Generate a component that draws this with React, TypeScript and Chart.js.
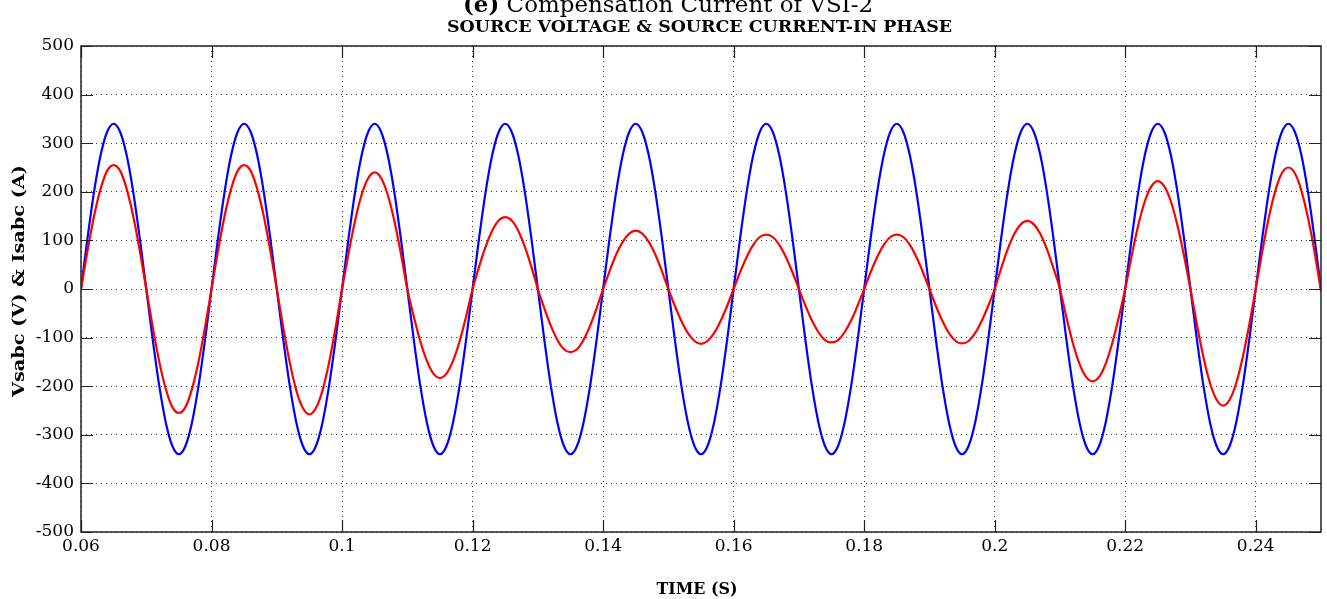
import React, { useEffect, useRef } from 'react';
import { Chart, registerables } from 'chart.js';

Chart.register(...registerables);

// Sampling grid of the recorded waveforms (seconds)
const T_START = 0.06;
const T_STEP = 0.001;

// Source voltage (V)
const vsabc = [
  0, 105, 200, 275, 323, 340, 323, 275, 200, 105, 0, -105, -200, -275, -323, -340, -323, -275, -200, -105,
  0, 105, 200, 275, 323, 340, 323, 275, 200, 105, 0, -105, -200, -275, -323, -340, -323, -275, -200, -105,
  0, 105, 200, 275, 323, 340, 323, 275, 200, 105, 0, -105, -200, -275, -323, -340, -323, -275, -200, -105,
  0, 105, 200, 275, 323, 340, 323, 275, 200, 105, 0, -105, -200, -275, -323, -340, -323, -275, -200, -105,
  0, 105, 200, 275, 323, 340, 323, 275, 200, 105, 0, -105, -200, -275, -323, -340, -323, -275, -200, -105,
  0, 105, 200, 275, 323, 340, 323, 275, 200, 105, 0, -105, -200, -275, -323, -340, -323, -275, -200, -105,
  0, 105, 200, 275, 323, 340, 323, 275, 200, 105, 0, -105, -200, -275, -323, -340, -323, -275, -200, -105,
  0, 105, 200, 275, 323, 340, 323, 275, 200, 105, 0, -105, -200, -275, -323, -340, -323, -275, -200, -105,
  0, 105, 200, 275, 323, 340, 323, 275, 200, 105, 0, -105, -200, -275, -323, -340, -323, -275, -200, -105,
  0, 105, 200, 275, 323, 340, 323, 275, 200, 105,
  0,
];

// Source current (A)
const isabc = [
  0, 79, 150, 206, 243, 255, 243, 206, 150, 79,
  0, -79, -150, -206, -243, -255, -243, -206, -150, -79,
  0, 79, 150, 206, 243, 255, 243, 206, 150, 79,
  0, -80, -152, -209, -245, -258, -245, -209, -152, -80,
  0, 74, 141, 194, 228, 240, 228, 194, 141, 74,
  0, -57, -108, -148, -174, -183, -174, -148, -108, -57,
  0, 46, 87, 120, 141, 148, 141, 120, 87, 46,
  0, -40, -76, -105, -124, -130, -124, -105, -76, -40,
  0, 37, 71, 97, 114, 120, 114, 97, 71, 37,
  0, -35, -66, -91, -107, -113, -107, -91, -66, -35,
  0, 35, 66, 91, 107, 112, 107, 91, 66, 35,
  0, -34, -65, -89, -105, -110, -105, -89, -65, -34,
  0, 35, 66, 91, 107, 112, 107, 91, 66, 35,
  0, -35, -66, -91, -107, -112, -107, -91, -66, -35,
  0, 43, 82, 113, 133, 140, 133, 113, 82, 43,
  0, -59, -112, -154, -181, -190, -181, -154, -112, -59,
  0, 69, 131, 180, 211, 222, 211, 180, 131, 69,
  0, -74, -141, -194, -228, -240, -228, -194, -141, -74,
  0, 77, 147, 202, 238, 250, 238, 202, 147, 77,
  -5,
];

const xTickValues = [0.06, 0.08, 0.1, 0.12, 0.14, 0.16, 0.18, 0.2, 0.22, 0.24];
const xTickLabels = ['0.06', '0.08', '0.1', '0.12', '0.14', '0.16', '0.18', '0.2', '0.22', '0.24'];
const yTickValues = [-500, -400, -300, -200, -100, 0, 100, 200, 300, 400, 500];
const yTickLabels = ['-500', '-400', '-300', '-200', '-100', '0', '100', '200', '300', '400', '500'];

const titleTag = '(e)';
const titleText = ' Compensation Current of VSI-2';
const subtitleText = 'SOURCE VOLTAGE & SOURCE CURRENT-IN PHASE';
const xAxisTitle = 'TIME (S)';
const yAxisTitle = 'Vsabc (V) & Isabc (A)';

const SERIF = '"DejaVu Serif", "Liberation Serif", serif';

function drawFitted(ctx: CanvasRenderingContext2D, text: string, font: string, cx: number, cy: number, width: number, rotation = 0, baseline: CanvasTextBaseline = 'alphabetic') {
  ctx.save();
  ctx.font = font;
  const w = ctx.measureText(text).width;
  ctx.translate(cx, cy);
  if (rotation) ctx.rotate(rotation);
  ctx.scale(width / w, 1);
  ctx.textAlign = 'center';
  ctx.textBaseline = baseline;
  ctx.fillStyle = '#000';
  ctx.fillText(text, 0, 0);
  ctx.restore();
}

const framePlugin = {
  id: 'frameTicks',
  afterDatasetsDraw(chart: any) {
    const { ctx, chartArea, scales } = chart;
    const { left, right, top, bottom } = chartArea;
    const x = scales.x;
    const y = scales.y;
    ctx.save();
    ctx.strokeStyle = '#222';
    ctx.lineWidth = 1.2;
    ctx.beginPath();
    for (const v of xTickValues) {
      const px = Math.round(x.getPixelForValue(v)) + 0.5;
      ctx.moveTo(px, bottom);
      ctx.lineTo(px, bottom - 12);
      ctx.moveTo(px, top);
      ctx.lineTo(px, top + 12);
    }
    for (const v of yTickValues) {
      const py = Math.round(y.getPixelForValue(v)) + 0.5;
      ctx.moveTo(left, py);
      ctx.lineTo(left + 12, py);
      ctx.moveTo(right, py);
      ctx.lineTo(right - 12, py);
    }
    ctx.stroke();
    ctx.lineWidth = 1.5;
    ctx.strokeRect(left, top, right - left, bottom - top);
    ctx.restore();
  },
};

const textPlugin = {
  id: 'texts',
  afterDraw(chart: any) {
    const ctx: CanvasRenderingContext2D = chart.ctx;
    // Title line (clipped at the top in the reference)
    ctx.save();
    ctx.fillStyle = '#000';
    ctx.textBaseline = 'alphabetic';
    ctx.textAlign = 'left';
    ctx.font = `bold 23px ${SERIF}`;
    const wTag = ctx.measureText(titleTag).width;
    ctx.font = `23px ${SERIF}`;
    const wText = ctx.measureText(titleText).width;
    const scale = 410 / (wTag + wText);
    ctx.translate(463, 12);
    ctx.scale(scale, 1);
    ctx.font = `bold 23px ${SERIF}`;
    ctx.fillText(titleTag, 0, 0);
    ctx.font = `23px ${SERIF}`;
    ctx.fillText(titleText, wTag, 0);
    ctx.restore();

    drawFitted(ctx, subtitleText, `bold 16px ${SERIF}`, 699.5, 32, 505);
    drawFitted(ctx, xAxisTitle, `bold 17px ${SERIF}`, 697, 594, 81);
    drawFitted(ctx, yAxisTitle, `bold 16px ${SERIF}`, 20, 281, 232, -Math.PI / 2, 'middle');
  },
};

export default function App() {
  const canvasRef = useRef<HTMLCanvasElement | null>(null);

  useEffect(() => {
    document.body.style.margin = '0';
    const canvas = canvasRef.current;
    if (!canvas) return;
    const times = vsabc.map((_, i) => +(T_START + i * T_STEP).toFixed(3));

    const chart = new Chart(canvas, {
      type: 'line',
      data: {
        datasets: [
          {
            label: 'Vsabc',
            data: vsabc.map((v, i) => ({ x: times[i], y: v })),
            borderColor: '#0000ff',
            borderWidth: 2.2,
            pointRadius: 0,
            cubicInterpolationMode: 'monotone',
            order: 2,
          },
          {
            label: 'Isabc',
            data: isabc.map((v, i) => ({ x: times[i], y: v })),
            borderColor: '#ff0000',
            borderWidth: 2.2,
            pointRadius: 0,
            cubicInterpolationMode: 'monotone',
            order: 1,
          },
        ],
      },
      options: {
        animation: false,
        responsive: false,
        devicePixelRatio: 1,
        layout: { padding: { top: 46, right: 6, left: 0, bottom: 0 } },
        plugins: {
          legend: { display: false },
          tooltip: { enabled: false },
          title: { display: false },
        },
        scales: {
          x: {
            type: 'linear',
            min: 0.06,
            max: 0.25,
            afterBuildTicks: (s: any) => {
              s.ticks = xTickValues.map((v) => ({ value: v }));
            },
            afterFit: (s: any) => {
              s.height = 67;
            },
            ticks: {
              autoSkip: false,
              maxRotation: 0,
              padding: 4,
              color: '#000',
              font: { family: SERIF, size: 17 },
              callback: (_v: any, i: number) => xTickLabels[i],
            },
            grid: { color: '#333', lineWidth: 1, drawTicks: false },
            border: { display: false, dash: [1, 4] },
          },
          y: {
            type: 'linear',
            min: -500,
            max: 500,
            afterBuildTicks: (s: any) => {
              s.ticks = yTickValues.map((v) => ({ value: v }));
            },
            afterFit: (s: any) => {
              s.width = 81;
            },
            ticks: {
              padding: 7,
              color: '#000',
              font: { family: SERIF, size: 17 },
              callback: (_v: any, i: number) => yTickLabels[i],
            },
            grid: { color: '#333', lineWidth: 1, drawTicks: false },
            border: { display: false, dash: [1, 4] },
          },
        },
      },
      plugins: [framePlugin, textPlugin],
    } as any);

    return () => chart.destroy();
  }, []);

  return <canvas ref={canvasRef} width={1327} height={599} style={{ display: 'block' }} />;
}
